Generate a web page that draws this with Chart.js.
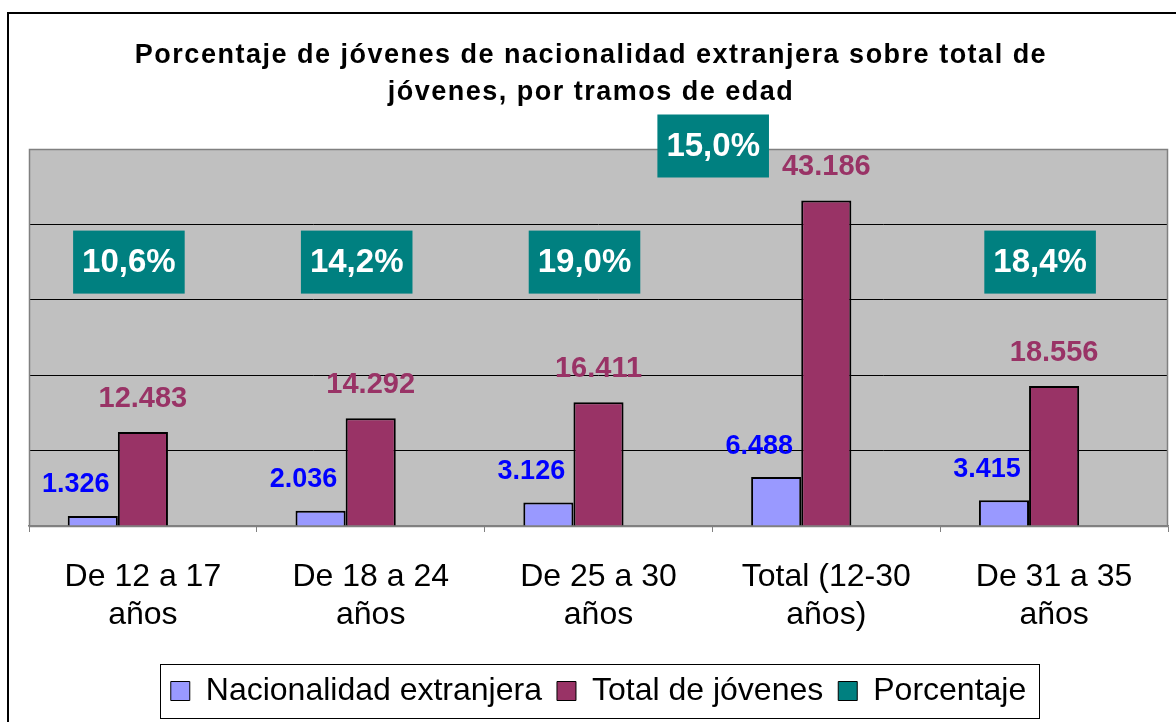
<!DOCTYPE html>
<html><head><meta charset="utf-8">
<script src="https://cdn.jsdelivr.net/npm/chart.js@4.4.1/dist/chart.umd.min.js"></script>
<style>
html,body{margin:0;padding:0;background:#fff;overflow:hidden;width:1176px;height:722px;}
#wrap{position:absolute;left:0;top:0;width:1176px;height:722px;}
#frame{position:absolute;left:7px;top:12px;width:2000px;height:2000px;border-left:2px solid #000;border-top:2px solid #000;pointer-events:none;}
</style></head><body>
<div id="wrap"><canvas id="c" width="1176" height="722"></canvas></div>
<div id="frame"></div>
<script>
const titleLines = ['Porcentaje de jóvenes de nacionalidad extranjera sobre total de', 'jóvenes, por tramos de edad'];
const categories = [['De 12 a 17', 'años'], ['De 18 a 24', 'años'], ['De 25 a 30', 'años'], ['Total (12-30', 'años)'], ['De 31 a 35', 'años']];
const seriesNames = ['Nacionalidad extranjera', 'Total de jóvenes', 'Porcentaje'];
const extranjeros = [1326, 2036, 3126, 6488, 3415];
const totalJovenes = [12483, 14292, 16411, 43186, 18556];
const porcentaje = [10.6, 14.2, 19.0, 15.0, 18.4];
const yTicks = [0, 10000, 20000, 30000, 40000, 50000];

const seriesColors = ['#9999FF', '#993366', '#008080'];
const FONT = '"Liberation Sans", Arial, Helvetica, sans-serif';
const fmtNum = v => String(v).replace(/\B(?=(\d{3})+(?!\d))/g, '.');
const fmtPct = v => v.toFixed(1).replace('.', ',') + '%';
const yMax = yTicks[yTicks.length - 1];
const pctLevel = yTicks[3] + yTicks[1] / 2;

const plotDecor = {
  id: 'plotDecor',
  beforeDraw(chart) {
    const {ctx, chartArea: a} = chart;
    ctx.save();
    ctx.fillStyle = '#C0C0C0';
    ctx.fillRect(a.left, a.top, a.right - a.left, a.bottom - a.top);
    ctx.restore();
  },
  beforeDatasetsDraw(chart) {
    const {ctx, chartArea: a} = chart;
    ctx.save();
    ctx.strokeStyle = '#808080';
    ctx.lineWidth = 1.5;
    ctx.strokeRect(a.left + 0.5, a.top + 0.5, a.right - a.left - 1, a.bottom - a.top);
    ctx.restore();
  },
  afterDraw(chart) {
    const {ctx} = chart;
    ctx.save();
    ctx.fillStyle = '#000';
    ctx.font = 'bold 27px ' + FONT;
    ctx.textAlign = 'center';
    ctx.textBaseline = 'alphabetic';
    try { ctx.letterSpacing = '1.5px'; } catch (e) {}
    titleLines.forEach((t, i) => ctx.fillText(t, chart.width / 2 + 3, 63 + i * 37));
    ctx.restore();

    const hb = chart.legend && chart.legend.legendHitBoxes;
    if (hb && hb.length) {
      const l = Math.min(...hb.map(h => h.left)) - 11;
      const r = Math.max(...hb.map(h => h.left + h.width)) + 13;
      const cy = hb[0].top + hb[0].height / 2;
      ctx.save();
      ctx.strokeStyle = '#000';
      ctx.lineWidth = 1;
      ctx.strokeRect(Math.round(l) + 0.5, Math.round(cy - 27) + 0.5, Math.round(r - l), 54);
      ctx.restore();
    }
  },
  afterDatasetsDraw(chart) {
    const {ctx, chartArea: a} = chart;
    const m0 = chart.getDatasetMeta(0), m1 = chart.getDatasetMeta(1);
    const xs = chart.scales.x, ys = chart.scales.y;
    ctx.save();
    ctx.textAlign = 'center';
    ctx.textBaseline = 'middle';
    ctx.font = 'bold 27px ' + FONT;
    ctx.fillStyle = '#0000FF';
    m0.data.forEach((b, i) => ctx.fillText(fmtNum(extranjeros[i]), b.x - 17, b.y - 31));
    ctx.font = 'bold 29px ' + FONT;
    ctx.fillStyle = '#993366';
    m1.data.forEach((b, i) => ctx.fillText(fmtNum(totalJovenes[i]), b.x, b.y - 33));
    ctx.font = 'bold 33px ' + FONT;
    const levelY = ys.getPixelForValue(pctLevel);
    porcentaje.forEach((p, i) => {
      const txt = fmtPct(p);
      const w = ctx.measureText(txt).width + 18, h = 63;
      let cx, cy;
      if (m1.data[i].y < levelY + h) {
        cx = m0.data[i].x - 63; cy = a.top - 3;
      } else {
        cx = xs.getPixelForValue(i) - 14; cy = levelY;
      }
      ctx.fillStyle = seriesColors[2];
      ctx.fillRect(cx - w / 2, cy - h / 2, w, h);
      ctx.fillStyle = '#FFFFFF';
      ctx.fillText(txt, cx, cy + 1);
    });
    ctx.restore();
  }
};

new Chart(document.getElementById('c'), {
  type: 'bar',
  data: {
    labels: categories,
    datasets: [
      {label: seriesNames[0], data: extranjeros, backgroundColor: seriesColors[0], borderColor: '#000', borderWidth: 2},
      {label: seriesNames[1], data: totalJovenes, backgroundColor: seriesColors[1], borderColor: '#000', borderWidth: 2},
      {label: seriesNames[2], data: porcentaje, backgroundColor: 'rgba(0,128,128,0)', borderWidth: 0}
    ]
  },
  options: {
    responsive: false,
    devicePixelRatio: 1,
    animation: false,
    events: [],
    datasets: {bar: {categoryPercentage: 0.66, barPercentage: 1.0}},
    layout: {padding: {left: 29, right: 8, top: 149, bottom: 5}},
    scales: {
      x: {
        grid: {display: true, drawOnChartArea: false, drawTicks: true, tickLength: 6, color: '#808080', offset: true},
        border: {display: true, color: '#808080', width: 1.5},
        ticks: {color: '#000', font: {family: FONT, size: 32, lineHeight: 1.2}, padding: 26, maxRotation: 0, autoSkip: false},
        afterFit(s) { s.height = 134; }
      },
      y: {
        min: 0, max: yMax,
        ticks: {display: false, stepSize: yTicks[1] - yTicks[0]},
        grid: {drawTicks: false, color: c => (c.tick.value === 0 || c.tick.value === yMax) ? 'rgba(0,0,0,0)' : '#000', lineWidth: 1},
        border: {display: false},
        afterFit(s) { s.width = 0; }
      }
    },
    plugins: {
      title: {display: false},
      tooltip: {enabled: false},
      legend: {
        display: true,
        position: 'bottom',
        labels: {
          color: '#000',
          font: {family: FONT, size: 32},
          boxWidth: 19, boxHeight: 19, padding: 15,
          generateLabels(chart) {
            const items = Chart.defaults.plugins.legend.labels.generateLabels(chart);
            items.forEach((it, i) => { it.fillStyle = seriesColors[i]; it.strokeStyle = '#000'; it.lineWidth = 1; });
            return items;
          }
        }
      }
    }
  },
  plugins: [plotDecor]
});
</script>
</body></html>
